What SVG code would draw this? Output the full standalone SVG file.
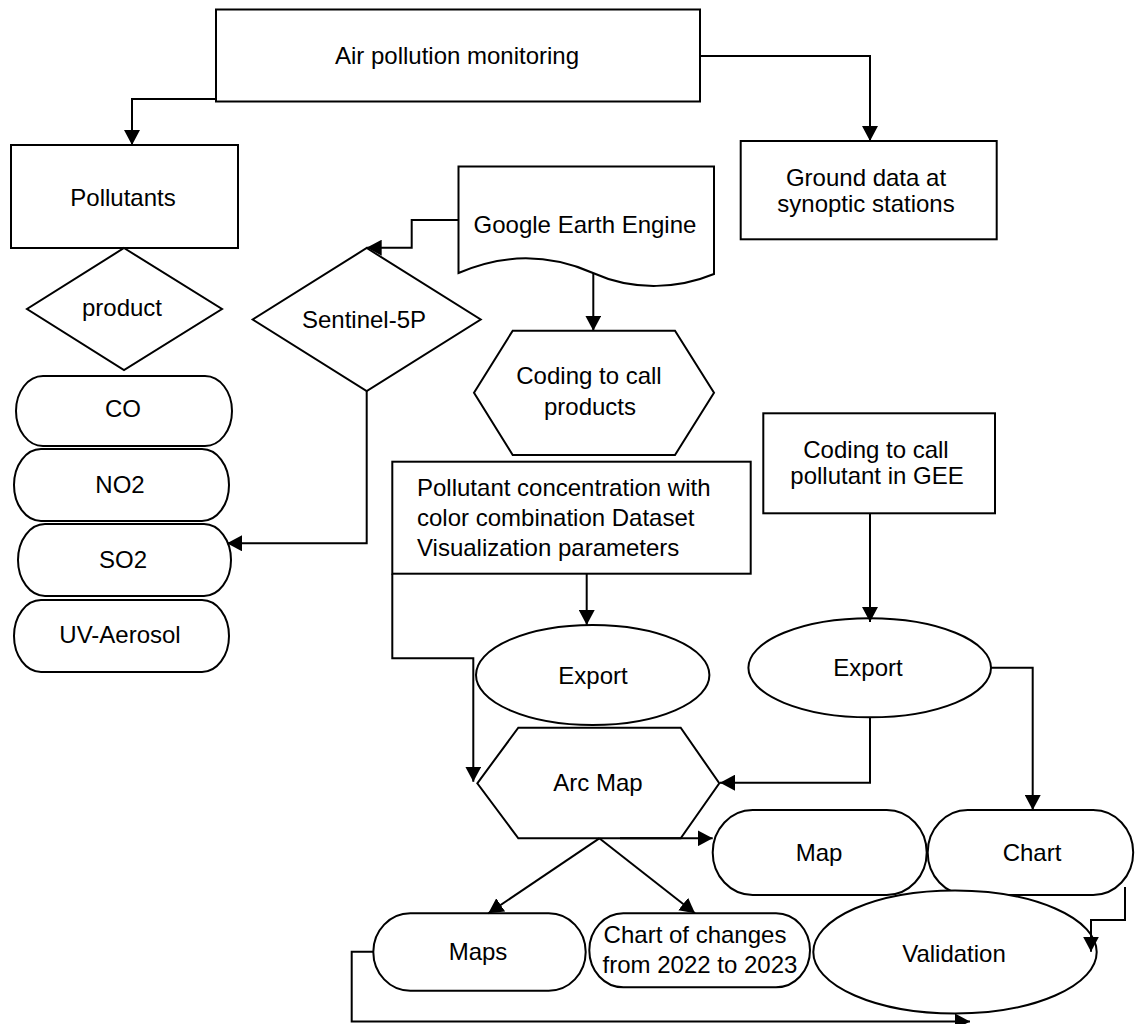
<svg xmlns="http://www.w3.org/2000/svg" width="1135" height="1024" viewBox="0 0 1135 1024">
<style>
.n{fill:#fff;stroke:#000;stroke-width:2}
.t{font-family:"Liberation Sans",Arial,sans-serif;font-size:24px;fill:#000;text-anchor:middle}
.l{text-anchor:start}
.c{fill:none;stroke:#000;stroke-width:2;marker-end:url(#ah)}
</style>
<defs>
<marker id="ah" markerWidth="15" markerHeight="16" refX="15" refY="8" orient="auto" markerUnits="userSpaceOnUse"><path d="M0,0 L15,8 L0,16 Z" fill="#000"/></marker>
</defs>
<rect width="1135" height="1024" fill="#fff"/>
<g id="air">
<rect class="n" x="216" y="9.5" width="484" height="92"/>
<text class="t" x="457" y="64">Air pollution monitoring</text>
</g>
<g id="pollutants">
<rect class="n" x="11" y="145" width="227" height="103"/>
<text class="t" x="123" y="206">Pollutants</text>
</g>
<g id="product">
<polygon class="n" points="124,248 222,309 124,370 27,309"/>
<text class="t" x="122" y="316">product</text>
</g>
<g id="co">
<rect class="n" x="16" y="376" width="216" height="70" rx="27" ry="35"/>
<text class="t" x="123" y="417">CO</text>
</g>
<g id="no2">
<rect class="n" x="14" y="449" width="215" height="72" rx="27" ry="36"/>
<text class="t" x="120" y="493">NO2</text>
</g>
<g id="so2">
<rect class="n" x="18" y="524" width="213" height="72" rx="27" ry="36"/>
<text class="t" x="123" y="568">SO2</text>
</g>
<g id="uv">
<rect class="n" x="14" y="600" width="215" height="72" rx="27" ry="36"/>
<text class="t" x="120" y="643">UV-Aerosol</text>
</g>
<g id="sentinel">
<polygon class="n" points="366.7,248 480.7,319.5 366.7,391 252.7,319.5"/>
<text class="t" x="364" y="328">Sentinel-5P</text>
</g>
<g id="gee">
<path class="n" d="M458.5,166.5 H714 V274 C680,288 635,292 593,273 C545,252 500,255 458.5,273 Z"/>
<text class="t" x="585" y="233">Google Earth Engine</text>
</g>
<g id="coding-products">
<polygon class="n" points="474,392.7 512.7,330.7 675,330.7 714,392.7 675,455 512.7,455"/>
<text class="t" x="589" y="384">Coding to call</text>
<text class="t" x="590" y="415">products</text>
</g>
<g id="concentration">
<rect class="n" x="392.3" y="461.7" width="358.4" height="112"/>
<text class="t l" x="417" y="496">Pollutant concentration with</text>
<text class="t l" x="417" y="526">color combination Dataset</text>
<text class="t l" x="417" y="556">Visualization parameters</text>
</g>
<g id="ground">
<rect class="n" x="740.7" y="141" width="256" height="98.3"/>
<text class="t" x="866" y="186">Ground data at</text>
<text class="t" x="866" y="212">synoptic stations</text>
</g>
<g id="coding-gee">
<rect class="n" x="763.3" y="413.3" width="231.7" height="100"/>
<text class="t" x="876" y="458">Coding to call</text>
<text class="t" x="877" y="484">pollutant in GEE</text>
</g>
<g id="export1">
<ellipse class="n" cx="592.7" cy="675" rx="116.7" ry="50"/>
<text class="t" x="593" y="684">Export</text>
</g>
<g id="export2">
<ellipse class="n" cx="869.7" cy="667.8" rx="121.3" ry="49.5"/>
<text class="t" x="868" y="676">Export</text>
</g>
<g id="arcmap">
<polygon class="n" points="477.3,783.3 518.3,727.7 680.7,727.7 719.3,783.3 680.7,838.3 518.3,838.3"/>
<text class="t" x="598" y="791">Arc Map</text>
</g>
<g id="map">
<rect class="n" x="712.7" y="810" width="214" height="85" rx="40" ry="42.5"/>
<text class="t" x="819" y="861">Map</text>
</g>
<g id="chart">
<rect class="n" x="927.7" y="810" width="205.5" height="85" rx="40" ry="42.5"/>
<text class="t" x="1032" y="861">Chart</text>
</g>
<g id="validation">
<ellipse class="n" cx="955" cy="952" rx="141.7" ry="61.5"/>
<text class="t" x="954" y="962">Validation</text>
</g>
<g id="maps">
<rect class="n" x="373.3" y="913.3" width="212.4" height="77.4" rx="37" ry="38.7"/>
<text class="t" x="478" y="960">Maps</text>
</g>
<g id="chart-changes">
<rect class="n" x="589.3" y="913.3" width="220.7" height="74" rx="34" ry="37"/>
<text class="t" x="695" y="943">Chart of changes</text>
<text class="t" x="700" y="973">from 2022 to 2023</text>
</g>
<g id="connectors">
<path class="c" d="M216,99 H132 V145"/>
<path class="c" d="M700,56 H870 V141"/>
<path class="c" d="M458.5,220 H411.7 V247.7 H366.7"/>
<path class="c" d="M593.3,273 V330.7"/>
<path class="c" d="M366.7,391 V543.3 H227"/>
<path class="c" d="M586.7,573.7 V625"/>
<path class="c" d="M392.3,573.7 V658.3 H473.3 V781.7"/>
<path class="c" d="M870,513.3 V622"/>
<path class="c" d="M870,717.3 V782.7 H720"/>
<path class="c" d="M991,667.7 H1032.7 V810"/>
<path class="c" d="M620,838.3 H712.7"/>
<path class="c" d="M599.3,838.3 L488.3,913.3"/>
<path class="c" d="M599.3,838.3 L695,913.3"/>
<path class="c" d="M1125,887 V920 H1091 V951.7"/>
<path class="c" d="M373.3,951.7 H351.7 V1021.5 H970"/>
</g>
</svg>
